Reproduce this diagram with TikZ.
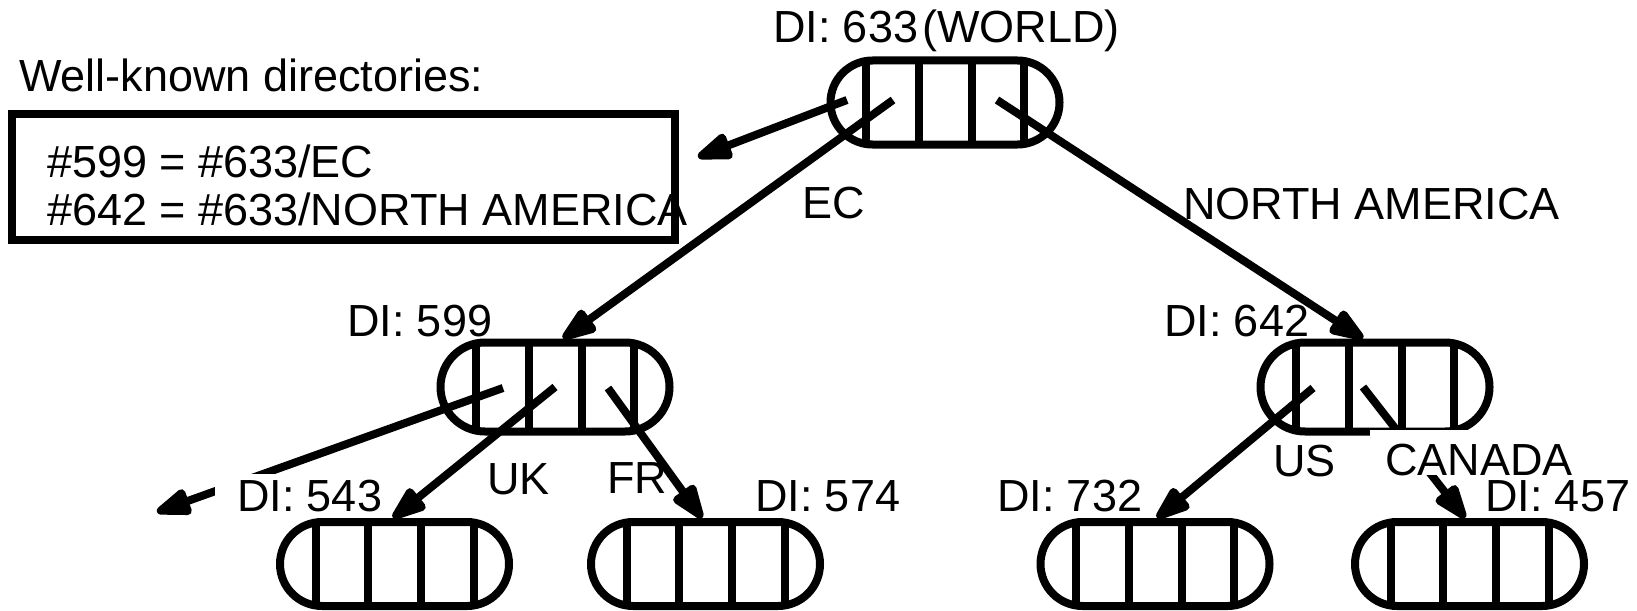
\documentclass[tikz,border=0pt]{standalone}
\usepackage{fontspec}
\setmainfont{Liberation Sans}
\usetikzlibrary{shapes.misc,arrows.meta,calc}
\newcommand\dirbars[2]{%
  \foreach \dx in {-79,-26.5,26.5,79}{%
    \draw[bar] ($(#1.center)+(\dx,-#2)$) -- ($(#1.center)+(\dx,#2)$);}}
\begin{document}
\begin{tikzpicture}[x=0.5pt,y=-0.5pt,
  dir/.style={rounded rectangle, draw, line width=4pt, minimum width=114.5pt,
    minimum height=42pt, inner sep=0pt},
  tall/.style={minimum height=44.5pt},
  bar/.style={line width=4pt},
  lbl/.style={inner sep=0pt, outer sep=0pt, anchor=base west,
    font=\fontsize{22.5pt}{27pt}\selectfont},
  arr/.style={line width=4pt, -{Triangle[length=21pt,width=14pt,round]}},
  wkbox/.style={draw, line width=4.2pt, minimum width=331.5pt, minimum height=63pt, inner sep=0pt}
]
\useasboundingbox (0,0) rectangle (1637,610);

% directory nodes
\node[dir] (n633) at (945,102.5) {};
\node[dir,tall] (n599) at (555,387) {};
\node[dir,tall] (n642) at (1375,387) {};
\node[dir] (n543) at (394.5,564) {};
\node[dir] (n574) at (705.5,564) {};
\node[dir] (n732) at (1155,564) {};
\node[dir] (n457) at (1469.5,564) {};
\dirbars{n633}{41}
\dirbars{n599}{43.5}
\dirbars{n642}{43.5}
\dirbars{n543}{41}
\dirbars{n574}{41}
\dirbars{n732}{41}
\dirbars{n457}{41}

% well-known box
\node[wkbox] (wk) at (343.5,177) {};
\coordinate (boxtip) at (698,157);
\coordinate (lefttip) at (157,512);

% arrows hidden partly behind labels
\draw[arr] ($(n599)+(-52,1)$) -- (lefttip);
\draw[arr] ($(n642)+(-12,0)$) -- ([xshift=-2.25pt]n457.north);

% labels
\node[lbl] (t633) at (773,43) {DI: 633\kern2pt(WORLD)};
\node[lbl] (twk) at (19,92) {Well-known directories:};
\node[lbl] (tl1) at (47,177) {\#599 = \#633/EC};
\node[lbl] (tl2) at (47,225) {\#642 = \#633/NORTH AMERICA};
\node[lbl] (tec) at (802,218) {EC};
\node[lbl] (tna) at (1183,219) {NORTH AMERICA};
\node[lbl] (t599) at (347,336) {DI: 599};
\node[lbl] (t642) at (1164,336) {DI: 642};
\node[lbl] (tuk) at (487,494) {UK};
\node[lbl] (tfr) at (607,493) {FR};
\node[lbl,fill=white,inner xsep=11pt,inner ysep=3pt,text depth=0pt] (t543) at (215,511) {DI: 543};
\node[lbl] (t574) at (755,511) {DI: 574};
\node[lbl] (t732) at (997,511) {DI: 732};
\node[lbl] (t457) at (1485,511) {DI: 457};
\node[lbl] (tus) at (1273,476) {US};
\node[lbl,fill=white,inner xsep=7.5pt,text height=22.6pt,text depth=0pt] (tca) at (1370,475) {CANADA};

% remaining arrows
\draw[arr] ($(n633)+(-98,-2.5)$) -- (boxtip);
\draw[arr] ($(n633)+(-52,-2.5)$) -- ([xshift=4pt]n599.north);
\draw[arr] ($(n633)+(52,-2.5)$) -- ([xshift=-6pt]n642.north);
\draw[arr] (n599.center) -- ([xshift=-0.75pt]n543.north);
\draw[arr] ($(n599)+(53,1)$) -- ([xshift=-1.75pt]n574.north);
\draw[arr] ($(n642)+(-62,1)$) -- ([xshift=1pt]n732.north);
\end{tikzpicture}
\end{document}
